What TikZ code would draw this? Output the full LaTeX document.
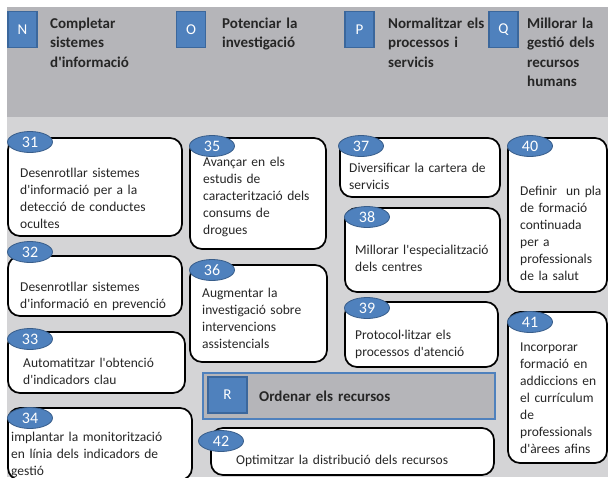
\documentclass[tikz,border=0pt]{standalone}
\usepackage{fontspec}
\setmainfont{Carlito}[Ligatures=TeXOff]
\usetikzlibrary{shapes.geometric}

\definecolor{headgray}{HTML}{B5B5B9}
\definecolor{panelgray}{HTML}{D4D4D6}
\definecolor{tagblue}{HTML}{4F81BD}
\definecolor{tagedge}{HTML}{385D8A}
\definecolor{letteredge}{HTML}{3B679C}
\definecolor{inkgray}{HTML}{262626}

\newcommand{\cardfont}{\fontsize{13.5}{17}\selectfont}
\newcommand{\headfont}{\fontsize{15}{19.5}\selectfont\bfseries}
\newcommand{\tagfont}{\fontsize{16}{16}\selectfont}

\tikzset{
  card/.style={draw=black, line width=1.7pt, fill=white, rounded corners=12pt},
  tag/.style={ellipse, draw=tagedge, line width=0.8pt, fill=tagblue,
    text=white, font=\tagfont, minimum width=45pt, minimum height=21pt,
    inner sep=0pt},
  letter/.style={draw=letteredge, line width=1.5pt, fill=tagblue,
    text=white, font=\fontsize{15}{15}\selectfont, minimum width=29pt,
    minimum height=36pt, inner sep=0pt},
  cardtext/.style={anchor=base west, inner sep=0pt, text width=200pt,
    align=left, font=\cardfont, text=inkgray},
  headtext/.style={anchor=base west, inner sep=0pt, text width=120pt,
    align=left, font=\headfont, text=inkgray}
}

\begin{document}
\begin{tikzpicture}[x=1pt, y=-1pt]
  \useasboundingbox (0,0) rectangle (608,477);
  % Draw background bands
  \fill[headgray]  (7,7)   rectangle (608,117);
  \fill[panelgray] (7,117) rectangle (608,477);
  % Draw header
  \node[letter] (letN) at (22.5,29.5) {N};
  \node[headtext] (headN) at (50,28) {Completar\\sistemes\\d'informació};
  \node[letter] (letO) at (191,29.5) {O};
  \node[headtext] (headO) at (222,28) {Potenciar la\\investigació};
  \node[letter] (letP) at (359.5,29.5) {P};
  \node[headtext] (headP) at (388,28) {Normalitzar els\\processos i\\servicis};
  \node[letter] (letQ) at (503.5,29.5) {Q};
  \node[headtext] (headQ) at (527,28) {Millorar la\\gestió dels\\recursos\\humans};
  % Draw first column
  \draw[card] (8,138) rectangle (182,236);
  \node[tag] (t31) at (30,142) {31};
  \node[cardtext] (c31) at (20,177)
        {Desenrotllar sistemes\\d'informació per a la\\detecció de conductes\\ocultes};
  \draw[card] (8,256) rectangle (182,316);
  \node[tag] (t32) at (30,252) {32};
  \node[cardtext] (c32) at (20,291)
        {Desenrotllar sistemes\\d'informació en prevenció};
  \draw[card] (8,332) rectangle (185,393);
  \node[tag] (t33) at (30,339) {33};
  \node[cardtext] (c33) at (23,367)
        {Automatitzar l'obtenció\\d'indicadors clau};
  \draw[card] (8,408) rectangle (192,480);
  \node[tag] (t34) at (30,418) {34};
  \node[cardtext] (c34) at (11,441)
        {implantar la monitorització\\en línia dels indicadors de\\gestió};
  % Draw second column
  \draw[card] (190,138) rectangle (326,249);
  \node[tag] (t35) at (212,146) {35};
  \node[cardtext] (c35) at (203,166)
        {Avançar en els\\estudis de\\caracterització dels\\consums de\\drogues};
  \draw[card] (190,265) rectangle (327,362);
  \node[tag] (t36) at (212,270) {36};
  \node[cardtext] (c36) at (202,297)
        {Augmentar la\\investigació sobre\\intervencions\\assistencials};
  % Draw resources band
  \draw[tagblue, line width=1.5pt, fill=headgray] (203,373) rectangle (495,419);
  \node[letter, minimum width=39pt] (letR) at (227.5,395) {R};
  \node[headtext, text width=200pt] (headR) at (259,401) {Ordenar els recursos};
  \draw[card] (211,428) rectangle (494,475);
  \node[tag] (t42) at (221,441) {42};
  \node[cardtext, text width=260pt] (c42) at (236,464)
        {Optimitzar la distribució dels recursos};
  % Draw third column
  \draw[card] (340,138) rectangle (500,197);
  \node[tag] (t37) at (361,146) {37};
  \node[cardtext] (c37) at (349,172)
        {Diversificar la cartera de\\servicis};
  \draw[card] (345,208) rectangle (500,292);
  \node[tag] (t38) at (367,217) {38};
  \node[cardtext] (c38) at (355,254)
        {Millorar l'especialització\\dels centres};
  \draw[card] (345,302) rectangle (498,367);
  \node[tag] (t39) at (367,308) {39};
  \node[cardtext] (c39) at (355,339)
        {Protocol·litzar els\\processos d'atenció};
  % Draw fourth column
  \draw[card] (508,138) rectangle (607,292);
  \node[tag] (t40) at (530,146) {40};
  \node[cardtext] (c40) at (520,195)
        {Definir~ un pla\\de formació\\continuada\\per a\\professionals\\de la salut};
  \draw[card] (508,312) rectangle (607,463);
  \node[tag] (t41) at (530,322) {41};
  \node[cardtext] (c41) at (520,351)
        {Incorporar\\formació en\\addiccions en\\el currículum\\de\\professionals\\d'àrees afins};
\end{tikzpicture}
\end{document}
